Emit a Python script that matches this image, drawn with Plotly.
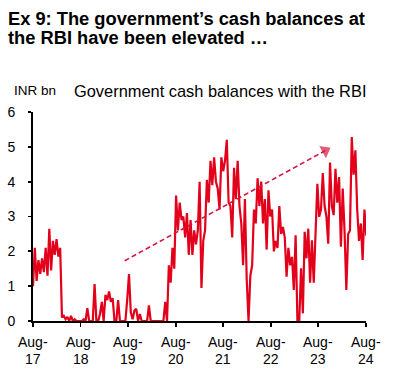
import plotly.graph_objects as go
import pandas as pd

# ---- data ----
cash_balances = [
    # Aug-17 .. Aug-18
    1.0, 2.1, 1.15, 1.75, 1.35, 1.8, 1.4, 2.1, 1.3, 2.65, 1.45, 2.3, 1.9, 2.35, 1.85, 2.1,
    0.1, 0.15, 0.05, 0.12, 0.0, 0.15, 0.0, 0.05, 0.0, 0.0,
    # Aug-18 .. Aug-19
    0.0, 0.0, 0.05, 0.0, 0.37, 0.0, 0.0, 0.0, 1.06, 0.0, 0.0, 0.2, 0.55, 0.0, 0.75, 0.6,
    0.85, 0.55, 0.65, 0.0, 0.0, 0.6, 0.0, 0.0, 0.0, 0.0,
    # Aug-19 .. Aug-20
    0.6, 1.35, 0.25, 0.05, 0.3, 0.35, 0.0, 0.2, 0.0, 0.0, 0.0, 0.0, 0.45, 0.0, 0.0, 0.0,
    0.0, 0.0, 0.0, 0.0, 0.0, 0.55, 0.0, 1.6, 1.1, 2.1,
    # Aug-20 .. Aug-21
    1.5, 3.6, 2.6, 3.4, 2.9, 3.0, 2.4, 3.1, 1.9, 2.9, 1.9, 2.6, 2.2, 2.6, 4.0, 0.95,
    2.3, 2.6, 4.05, 3.4, 4.6, 3.9, 4.7, 4.0, 3.8, 3.2,
    # Aug-21 .. Aug-22
    4.7, 4.3, 4.6, 5.2, 3.4, 3.3, 2.4, 4.4, 3.5, 4.6, 3.3, 2.8, 1.6, 3.5, 1.2, 0.0,
    1.3, 1.6, 3.2, 2.8, 4.1, 3.3, 4.0, 2.8, 3.5, 2.05,
    # Aug-22 .. Aug-23
    3.75, 3.0, 3.2, 2.0, 2.3, 2.1, 3.3, 2.5, 2.7, 2.4, 1.27, 2.1, 1.6, 1.84, 0.89, 2.46,
    0.0, 0.0, 1.51, 0.22, 2.56, 1.8, 2.65, 1.1, 2.32, 1.1,
    # Aug-23 .. Aug-24
    2.3, 3.94, 2.99, 3.2, 4.25, 3.3, 3.0, 2.22, 4.55, 3.3, 3.04, 4.37, 3.4, 4.13, 2.13, 3.8,
    2.6, 0.89, 2.5, 2.6, 5.28, 4.2, 4.9, 3.2, 2.3, 2.8, 1.75, 3.2, 2.45,
]
series_start = "2017-08-01"
series_end = "2024-08-03"

trend_dates = ["2019-07-06", "2023-09-23"]
trend_values = [1.73, 4.89]

tick_dates = ["2017-08-01", "2018-08-01", "2019-08-01", "2020-08-01",
              "2021-08-01", "2022-08-01", "2023-08-01", "2024-08-01"]
tick_month = "Aug-"
tick_years = ["17", "18", "19", "20", "21", "22", "23", "24"]
y_ticks = [0, 1, 2, 3, 4, 5, 6]

title_lines = ["Ex 9: The government\u2019s cash balances at",
               "the RBI have been elevated \u2026"]
unit_label = "INR bn"
chart_title = "Government cash balances with the RBI"

dates = pd.date_range(series_start, series_end, periods=len(cash_balances))

# ---- layout geometry (pixels) ----
W, H = 396, 376
L, R, T, B = 33, 366, 111.7, 321

def px_x(px):
    return (px - L) / (R - L)

def px_y(py):
    return (B - py) / (B - T)

FONT = "Liberation Sans, Arial, sans-serif"

fig = go.Figure()
fig.add_trace(go.Scatter(
    x=dates, y=cash_balances, mode="lines",
    line=dict(color="#e2001a", width=2.2),
    hoverinfo="skip", showlegend=False,
))
fig.add_trace(go.Scatter(
    x=trend_dates, y=trend_values, mode="lines+markers",
    line=dict(color="#d3163f", width=1.6, dash="5px,3px"),
    marker=dict(symbol="triangle-up", size=[0, 12], color="#d3163f",
                angleref="previous", line=dict(width=0)),
    cliponaxis=False, hoverinfo="skip", showlegend=False,
))

annotations = []
annotations.append(dict(text=title_lines[0], xref="paper", yref="paper",
                        x=px_x(6), y=px_y(18.5), xanchor="left", yanchor="middle",
                        showarrow=False, font=dict(family=FONT, size=18.3, color="#000000", weight="bold")))
annotations.append(dict(text=title_lines[1], xref="paper", yref="paper",
                        x=px_x(6), y=px_y(36.8), xanchor="left", yanchor="middle",
                        showarrow=False, font=dict(family=FONT, size=18.3, color="#000000", weight="bold")))
annotations.append(dict(text=unit_label, xref="paper", yref="paper",
                        x=px_x(12), y=px_y(90), xanchor="left", yanchor="middle",
                        showarrow=False, font=dict(family=FONT, size=13.5, color="#000000")))
annotations.append(dict(text=chart_title, xref="paper", yref="paper",
                        x=px_x(72), y=px_y(91), xanchor="left", yanchor="middle",
                        showarrow=False, font=dict(family=FONT, size=16.4, color="#000000")))
for d, yr in zip(tick_dates, tick_years):
    annotations.append(dict(text=tick_month, xref="x", yref="paper", x=d, y=px_y(342.5),
                            xanchor="center", yanchor="middle", showarrow=False,
                            font=dict(family=FONT, size=14, color="#000000")))
    annotations.append(dict(text=yr, xref="x", yref="paper", x=d, y=px_y(359.5),
                            xanchor="center", yanchor="middle", showarrow=False,
                            font=dict(family=FONT, size=14, color="#000000")))

fig.update_layout(
    template="none",
    width=W, height=H,
    margin=dict(l=L, r=W - R, t=T, b=H - B, pad=0, autoexpand=False),
    paper_bgcolor="#ffffff", plot_bgcolor="#ffffff",
    showlegend=False,
    annotations=annotations,
    xaxis=dict(
        type="date", range=[tick_dates[0], tick_dates[-1]],
        tickvals=tick_dates, showticklabels=False, automargin=False,
        ticks="outside", ticklen=4, tickwidth=1.8, tickcolor="#000000",
        showline=True, linecolor="#000000", linewidth=2,
        showgrid=False, zeroline=False, layer="below traces",
    ),
    yaxis=dict(
        range=[0, 6], tickvals=y_ticks, automargin=False,
        ticks="outside", ticklen=3, tickwidth=1.8, tickcolor="#000000",
        ticklabelstandoff=10,
        showline=True, linecolor="#000000", linewidth=2,
        showgrid=False, zeroline=False, layer="below traces",
        tickfont=dict(family=FONT, size=14, color="#000000"),
    ),
)

fig.write_html("out.html", config={"displayModeBar": False, "staticPlot": True},
               post_script="document.body.style.margin='0';")
